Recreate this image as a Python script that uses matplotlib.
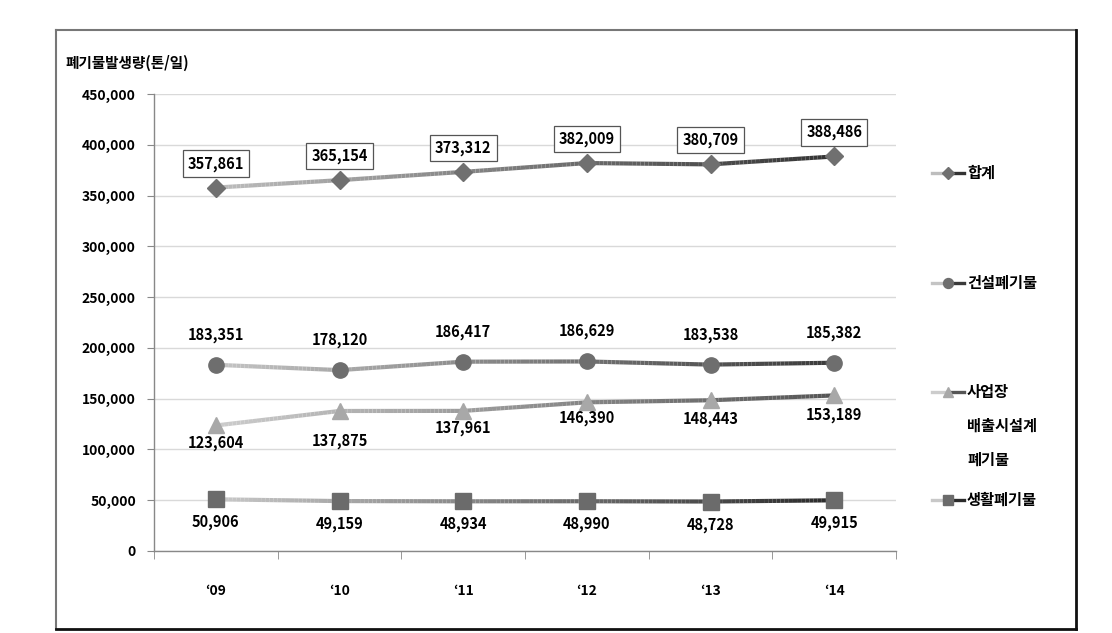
import numpy as np
import matplotlib
matplotlib.use('Agg')
import matplotlib.pyplot as plt
from matplotlib.collections import LineCollection
from matplotlib.colors import LinearSegmentedColormap
from matplotlib.lines import Line2D
from matplotlib.ticker import FuncFormatter, MultipleLocator

plt.rcParams['font.family'] = ['Noto Sans CJK KR', 'DejaVu Sans']
plt.rcParams['font.weight'] = 'bold'

# data
years = ["\u201809", "\u201810", "\u201811", "\u201812", "\u201813", "\u201814"]
total = [357861, 365154, 373312, 382009, 380709, 388486]
construction = [183351, 178120, 186417, 186629, 183538, 185382]
industrial = [123604, 137875, 137961, 146390, 148443, 153189]
household = [50906, 49159, 48934, 48990, 48728, 49915]

legend_names = ["합계", "건설폐기물", "사업장\n배출시설계\n폐기물", "생활폐기물"]

fig = plt.figure(figsize=(11.12, 6.33), dpi=100)
ax = fig.add_axes([154 / 1112, 82 / 633, 742 / 1112, 457 / 633])

x = np.arange(len(years))


def gradient_line(ax, xs, ys, c0, c1, lw=3.0):
    # straight segments between points, coloured light -> dark
    cmap = LinearSegmentedColormap.from_list("g", [c0, c1])
    segs, cols = [], []
    n = 30
    nseg = len(xs) - 1
    for i in range(nseg):
        t = np.linspace(0, 1, n + 1)
        px = xs[i] + (xs[i + 1] - xs[i]) * t
        py = ys[i] + (ys[i + 1] - ys[i]) * t
        for j in range(n):
            segs.append([(px[j], py[j]), (px[j + 1], py[j + 1])])
            cols.append(cmap((i + (j + 0.5) / n) / nseg))
    ax.add_collection(LineCollection(segs, colors=cols, linewidths=lw,
                                     capstyle='butt', zorder=3))


series = [
    (total, 'D', 9, '#707070', '#bdbdbd', '#333333'),
    (construction, 'o', 11, '#6e6e6e', '#c4c4c4', '#3a3a3a'),
    (industrial, '^', 11, '#a8a8a8', '#cccccc', '#555555'),
    (household, 's', 11, '#6b6b6b', '#c8c8c8', '#2a2a2a'),
]

for vals, mk, ms, mc, c0, c1 in series:
    gradient_line(ax, x, np.array(vals, dtype=float), c0, c1)
    ax.plot(x, vals, linestyle='none', marker=mk, markersize=ms,
            color=mc, markeredgecolor=mc, zorder=4)

# data labels
lab_kw = dict(textcoords='offset pixels', ha='center', va='center',
              fontsize=10.5, fontweight='bold', zorder=5)
for xi, v in zip(x, total):
    ax.annotate(f"{v:,}", (xi, v), xytext=(0, 24),
                bbox=dict(boxstyle='square,pad=0.35', fc='white', ec='#555555', lw=0.9),
                **lab_kw)
for xi, v in zip(x, construction):
    ax.annotate(f"{v:,}", (xi, v), xytext=(0, 30), **lab_kw)
ind_off = [-18, -30, -17, -16, -19, -20]
for xi, v, off in zip(x, industrial, ind_off):
    ax.annotate(f"{v:,}", (xi, v), xytext=(0, off), **lab_kw)
for xi, v in zip(x, household):
    ax.annotate(f"{v:,}", (xi, v), xytext=(0, -23), **lab_kw)

# axes styling
ax.set_xlim(-0.5, len(years) - 0.5)
ax.set_ylim(0, 450000)
ax.yaxis.set_major_locator(MultipleLocator(50000))
ax.yaxis.set_major_formatter(FuncFormatter(lambda v, p: f"{int(v):,}"))
ax.set_xticks(x)
ax.set_xticklabels(years)
ax.set_xticks(np.arange(-0.5, len(years), 1.0), minor=True)
ax.tick_params(axis='x', which='major', length=0, pad=24, labelsize=10)
ax.tick_params(axis='x', which='minor', length=6, color='#888888', direction='out')
ax.tick_params(axis='y', length=5, color='#888888', pad=8, labelsize=10)
for lab in ax.get_xticklabels() + ax.get_yticklabels():
    lab.set_fontweight('bold')
ax.grid(axis='y', color='#d9d9d9', lw=1)
ax.set_axisbelow(True)
for s in ['top', 'right']:
    ax.spines[s].set_visible(False)
for s in ['left', 'bottom']:
    ax.spines[s].set_color('#888888')
    ax.spines[s].set_linewidth(1)

fig.text(65 / 1112, 1 - 63 / 633, "폐기물발생량(톤/일)", fontsize=10.5,
         fontweight='bold', ha='left', va='center')

# legend (placed by hand, one entry per series)
leg_y = [173, 283, 392, 500]
x0, x1, xm = 932 / 1112, 964 / 1112, 948 / 1112
for (vals, mk, ms, mc, c0, c1), name, ly in zip(series, legend_names, leg_y):
    yy = 1 - ly / 633
    fig.add_artist(Line2D([x0, xm], [yy, yy], transform=fig.transFigure, color=c0, lw=2.4))
    fig.add_artist(Line2D([xm, x1], [yy, yy], transform=fig.transFigure, color=c1, lw=2.4))
    fig.add_artist(Line2D([xm], [yy], transform=fig.transFigure, marker=mk,
                          markersize=ms * 0.65, color=mc, linestyle='none'))
    for k, part in enumerate(name.split('\n')):
        fig.text(967 / 1112, 1 - (ly + k * 34) / 633, part, fontsize=11,
                 fontweight='bold', ha='left', va='center')

# outer frame
L, R, T, B = 56 / 1112, 1076 / 1112, 1 - 30 / 633, 1 - 629 / 633
fig.add_artist(Line2D([L, R], [T, T], transform=fig.transFigure, color='#777777', lw=1.5))
fig.add_artist(Line2D([L, L], [T, B], transform=fig.transFigure, color='#777777', lw=1.5))
fig.add_artist(Line2D([R, R], [T, B], transform=fig.transFigure, color='#111111', lw=2))
fig.add_artist(Line2D([L, R], [B, B], transform=fig.transFigure, color='#111111', lw=2))

fig.savefig("out.png", dpi=100)
